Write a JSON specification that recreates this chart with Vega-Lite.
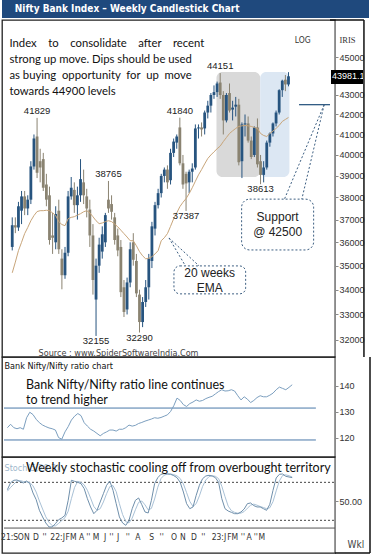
{
  "$schema": "https://vega.github.io/schema/vega-lite/v6.json",
  "padding": {"left": 0, "top": 0, "right": 0, "bottom": 0},
  "background": "white",
  "spacing": 2,
  "bounds": "flush",
  "config": {"view": {"stroke": null}, "text": {"font": "Liberation Sans"}},
  "datasets": {
    "weekly": [
      {"w":0,"o":35800,"h":37100,"l":35650,"c":36750,"ema":34700,"r":123.9,"k":68.4,"d":66.0},
      {"w":1,"o":36750,"h":37100,"l":36400,"c":36650,"ema":35150,"r":125.2,"k":79.5,"d":72.0},
      {"w":2,"o":36650,"h":37800,"l":36500,"c":37600,"ema":35640,"r":123.9,"k":83.2,"d":77.0},
      {"w":3,"o":37400,"h":38300,"l":36800,"c":38050,"ema":36000,"r":123.5,"k":83.7,"d":82.1},
      {"w":4,"o":38050,"h":38300,"l":37200,"c":37500,"ema":36380,"r":123.9,"k":81.1,"d":82.7},
      {"w":5,"o":37500,"h":38100,"l":37200,"c":37900,"ema":36650,"r":123.3,"k":79.0,"d":81.3},
      {"w":6,"o":37900,"h":39700,"l":37700,"c":39450,"ema":36950,"r":127.7,"k":82.1,"d":80.7},
      {"w":7,"o":39450,"h":41000,"l":39300,"c":40800,"ema":37180,"r":129.8,"k":77.9,"d":79.7},
      {"w":8,"o":40900,"h":41829,"l":38900,"c":39150,"ema":37360,"r":128.9,"k":63.2,"d":74.4},
      {"w":9,"o":39700,"h":40300,"l":38700,"c":39400,"ema":37400,"r":127.1,"k":52.6,"d":64.6},
      {"w":10,"o":39800,"h":40100,"l":38300,"c":38450,"ema":37400,"r":125.8,"k":35.8,"d":50.5},
      {"w":11,"o":38600,"h":39100,"l":37600,"c":37900,"ema":37420,"r":124.9,"k":25.3,"d":37.9},
      {"w":12,"o":38100,"h":38500,"l":35900,"c":36100,"ema":37400,"r":124.3,"k":15.8,"d":25.6},
      {"w":13,"o":36300,"h":37300,"l":35500,"c":36200,"ema":37300,"r":123.8,"k":9.5,"d":16.9},
      {"w":14,"o":36000,"h":37600,"l":35700,"c":37250,"ema":37180,"r":123.5,"k":9.5,"d":11.6},
      {"w":15,"o":37400,"h":37900,"l":35500,"c":35700,"ema":36910,"r":123.0,"k":14.7,"d":11.2},
      {"w":16,"o":35300,"h":35700,"l":34018,"c":34600,"ema":36780,"r":120.1,"k":21.0,"d":15.1},
      {"w":17,"o":34600,"h":35800,"l":34450,"c":35550,"ema":36730,"r":119.5,"k":23.7,"d":19.8},
      {"w":18,"o":35550,"h":38300,"l":35400,"c":38050,"ema":37040,"r":122.3,"k":27.9,"d":24.2},
      {"w":19,"o":38050,"h":38950,"l":37900,"c":38450,"ema":37100,"r":124.3,"k":51.6,"d":34.4},
      {"w":20,"o":38350,"h":38700,"l":37300,"c":37650,"ema":37130,"r":126.8,"k":83.2,"d":54.2},
      {"w":21,"o":37650,"h":38500,"l":37000,"c":38100,"ema":37200,"r":128.3,"k":81.6,"d":72.1},
      {"w":22,"o":38100,"h":39800,"l":37800,"c":38850,"ema":37265,"r":129.3,"k":80.0,"d":81.6},
      {"w":23,"o":38700,"h":39300,"l":37700,"c":38100,"ema":37350,"r":128.5,"k":77.9,"d":79.8},
      {"w":24,"o":38050,"h":38400,"l":37100,"c":37500,"ema":37400,"r":125.8,"k":70.0,"d":76.0},
      {"w":25,"o":37450,"h":37900,"l":35800,"c":36300,"ema":37300,"r":124.5,"k":54.2,"d":67.4},
      {"w":26,"o":36300,"h":36800,"l":33800,"c":34400,"ema":37130,"r":123.3,"k":41.1,"d":55.1},
      {"w":27,"o":33600,"h":35300,"l":32155,"c":35000,"ema":36950,"r":122.6,"k":30.5,"d":41.9},
      {"w":28,"o":35000,"h":36200,"l":34700,"c":35900,"ema":36820,"r":121.7,"k":35.8,"d":35.8},
      {"w":29,"o":35600,"h":36700,"l":35300,"c":36350,"ema":36850,"r":120.8,"k":49.0,"d":38.4},
      {"w":30,"o":36000,"h":37300,"l":35800,"c":37200,"ema":36910,"r":121.7,"k":62.1,"d":49.0},
      {"w":31,"o":37900,"h":38765,"l":37300,"c":37500,"ema":36950,"r":122.3,"k":75.3,"d":62.1},
      {"w":32,"o":37700,"h":38100,"l":37000,"c":37350,"ema":36910,"r":123.0,"k":82.1,"d":73.2},
      {"w":33,"o":37100,"h":37300,"l":35900,"c":36100,"ema":36800,"r":123.0,"k":67.4,"d":74.9},
      {"w":34,"o":36300,"h":36600,"l":35400,"c":35650,"ema":36680,"r":122.6,"k":46.3,"d":65.3},
      {"w":35,"o":35800,"h":36100,"l":33700,"c":33900,"ema":36530,"r":123.3,"k":25.3,"d":46.3},
      {"w":36,"o":34100,"h":34400,"l":32900,"c":33100,"ema":36380,"r":123.3,"k":15.8,"d":29.1},
      {"w":37,"o":33200,"h":34500,"l":33000,"c":34300,"ema":36230,"r":123.9,"k":12.1,"d":17.7},
      {"w":38,"o":34300,"h":36000,"l":34100,"c":35700,"ema":36070,"r":124.9,"k":20.0,"d":16.0},
      {"w":39,"o":36000,"h":36400,"l":35000,"c":35250,"ema":36070,"r":124.5,"k":38.4,"d":23.5},
      {"w":40,"o":35200,"h":35500,"l":33700,"c":33850,"ema":35850,"r":124.8,"k":51.6,"d":36.7},
      {"w":41,"o":33800,"h":34000,"l":32290,"c":32700,"ema":35600,"r":125.5,"k":55.3,"d":48.4},
      {"w":42,"o":32700,"h":33700,"l":32500,"c":33500,"ema":35420,"r":125.9,"k":44.7,"d":50.5},
      {"w":43,"o":33500,"h":34400,"l":33300,"c":34100,"ema":35290,"r":126.4,"k":33.2,"d":44.4},
      {"w":44,"o":34100,"h":35500,"l":33600,"c":35300,"ema":35320,"r":126.8,"k":31.6,"d":36.5},
      {"w":45,"o":35200,"h":36900,"l":34900,"c":36700,"ema":35380,"r":127.2,"k":51.6,"d":38.8},
      {"w":46,"o":36600,"h":37800,"l":36300,"c":37650,"ema":35500,"r":127.7,"k":77.9,"d":53.7},
      {"w":47,"o":37650,"h":38400,"l":37500,"c":38200,"ema":35640,"r":127.5,"k":87.4,"d":72.3},
      {"w":48,"o":38200,"h":39100,"l":38000,"c":39000,"ema":36070,"r":127.8,"k":92.7,"d":86.0},
      {"w":49,"o":39000,"h":39400,"l":38700,"c":39300,"ema":36200,"r":128.3,"k":93.7,"d":91.3},
      {"w":50,"o":39300,"h":39500,"l":38400,"c":38700,"ema":36380,"r":128.8,"k":93.2,"d":93.2},
      {"w":51,"o":38800,"h":40300,"l":38600,"c":40100,"ema":36700,"r":130.1,"k":92.7,"d":93.2},
      {"w":52,"o":40100,"h":40800,"l":39900,"c":40650,"ema":37040,"r":132.3,"k":90.5,"d":92.1},
      {"w":53,"o":40600,"h":41000,"l":40300,"c":40900,"ema":37300,"r":135.2,"k":87.4,"d":90.2},
      {"w":54,"o":41350,"h":41840,"l":39500,"c":39600,"ema":37580,"r":134.3,"k":80.0,"d":86.0},
      {"w":55,"o":39600,"h":40000,"l":38400,"c":38600,"ema":37780,"r":132.7,"k":64.7,"d":77.4},
      {"w":56,"o":39100,"h":39200,"l":37387,"c":38650,"ema":37950,"r":132.0,"k":46.3,"d":63.7},
      {"w":57,"o":38700,"h":39300,"l":38200,"c":39200,"ema":38180,"r":133.1,"k":38.4,"d":49.8},
      {"w":58,"o":39200,"h":39600,"l":38700,"c":39350,"ema":38450,"r":133.7,"k":41.1,"d":41.9},
      {"w":59,"o":39400,"h":41500,"l":39300,"c":41300,"ema":38750,"r":134.5,"k":59.5,"d":46.3},
      {"w":60,"o":41300,"h":41500,"l":40800,"c":41350,"ema":39050,"r":134.0,"k":75.3,"d":58.6},
      {"w":61,"o":41350,"h":41600,"l":40900,"c":41250,"ema":39300,"r":134.3,"k":85.8,"d":73.5},
      {"w":62,"o":41300,"h":42200,"l":41000,"c":42100,"ema":39570,"r":135.0,"k":90.0,"d":83.7},
      {"w":63,"o":42100,"h":42700,"l":41800,"c":42450,"ema":39830,"r":135.5,"k":91.1,"d":89.0},
      {"w":64,"o":42450,"h":43100,"l":42100,"c":43000,"ema":40000,"r":135.9,"k":90.0,"d":90.4},
      {"w":65,"o":43000,"h":43500,"l":42800,"c":43150,"ema":40150,"r":136.8,"k":87.4,"d":89.5},
      {"w":66,"o":43150,"h":43700,"l":42900,"c":43600,"ema":40300,"r":137.7,"k":80.0,"d":85.8},
      {"w":67,"o":43650,"h":44151,"l":42800,"c":43000,"ema":40430,"r":138.4,"k":54.2,"d":73.9},
      {"w":68,"o":43000,"h":43200,"l":41000,"c":41700,"ema":40650,"r":137.9,"k":38.4,"d":57.5},
      {"w":69,"o":41700,"h":43100,"l":41600,"c":43000,"ema":40850,"r":138.0,"k":34.7,"d":42.4},
      {"w":70,"o":43100,"h":43600,"l":42100,"c":42200,"ema":41050,"r":138.4,"k":32.6,"d":35.2},
      {"w":71,"o":42250,"h":42700,"l":41700,"c":42350,"ema":41180,"r":137.9,"k":30.5,"d":32.6},
      {"w":72,"o":42400,"h":42900,"l":41900,"c":42500,"ema":41300,"r":136.1,"k":30.5,"d":31.2},
      {"w":73,"o":42500,"h":42800,"l":39500,"c":39650,"ema":41400,"r":134.5,"k":33.2,"d":31.4},
      {"w":74,"o":39700,"h":41600,"l":38900,"c":41500,"ema":41430,"r":135.7,"k":37.9,"d":33.9},
      {"w":75,"o":41500,"h":42000,"l":40900,"c":41550,"ema":41450,"r":134.8,"k":46.3,"d":39.1},
      {"w":76,"o":41550,"h":41900,"l":40600,"c":40700,"ema":41430,"r":133.5,"k":47.4,"d":43.9},
      {"w":77,"o":40700,"h":40900,"l":39800,"c":39900,"ema":41400,"r":134.3,"k":43.2,"d":45.6},
      {"w":78,"o":40000,"h":41400,"l":39900,"c":41350,"ema":41350,"r":135.4,"k":41.1,"d":43.9},
      {"w":79,"o":41350,"h":41800,"l":39400,"c":39550,"ema":41300,"r":136.1,"k":41.1,"d":41.8},
      {"w":80,"o":39700,"h":40000,"l":38613,"c":39050,"ema":41050,"r":135.7,"k":38.4,"d":40.2},
      {"w":81,"o":39050,"h":39700,"l":38700,"c":39400,"ema":40950,"r":135.7,"k":35.8,"d":38.4},
      {"w":82,"o":39400,"h":40700,"l":39300,"c":40600,"ema":40900,"r":136.3,"k":45.3,"d":39.8},
      {"w":83,"o":40600,"h":41100,"l":40400,"c":41050,"ema":41050,"r":137.1,"k":67.4,"d":49.5},
      {"w":84,"o":41050,"h":41600,"l":40900,"c":41550,"ema":41170,"r":138.4,"k":86.9,"d":66.5},
      {"w":85,"o":41550,"h":42200,"l":41400,"c":42100,"ema":41300,"r":139.4,"k":92.7,"d":82.3},
      {"w":86,"o":42100,"h":43300,"l":42000,"c":43250,"ema":41450,"r":138.9,"k":93.2,"d":90.9},
      {"w":87,"o":43250,"h":43800,"l":42900,"c":43750,"ema":41650,"r":138.4,"k":89.5,"d":91.8},
      {"w":88,"o":43800,"h":44050,"l":43200,"c":43550,"ema":41750,"r":139.3,"k":88.4,"d":90.4},
      {"w":89,"o":43550,"h":44200,"l":43450,"c":43981.1,"ema":41850,"r":140.3,"k":87.4,"d":88.4}
    ],
    "peaks": [
      {"w":8,"v":41829,"pos":"top"},
      {"w":27,"v":32155,"pos":"bottom"},
      {"w":31,"v":38765,"pos":"top"},
      {"w":41,"v":32290,"pos":"bottom"},
      {"w":54,"v":41840,"pos":"top"},
      {"w":56,"v":37387,"pos":"bottom"},
      {"w":67,"v":44151,"pos":"top"},
      {"w":80,"v":38613,"pos":"bottom"}
    ],
    "zones": [
      {"zone":"consolidation","from":65.8,"to":79.9,"top":44210,"bottom":38950},
      {"zone":"breakout","from":79.9,"to":89.3,"top":44210,"bottom":38950}
    ],
    "months": [
      {"w":0.7,"m":"21:S"},{"w":4.2,"m":"O"},{"w":6.1,"m":"N"},{"w":8.9,"m":"D"},{"w":11.6,"m":"''"},
      {"w":15.7,"m":"22:J"},{"w":19.9,"m":"FM"},{"w":23.2,"m":"A"},{"w":25.3,"m":"''"},{"w":27.7,"m":"M"},
      {"w":30.5,"m":"J"},{"w":32.5,"m":"''"},{"w":34.6,"m":"J"},{"w":37.6,"m":"''"},{"w":40.8,"m":"A"},
      {"w":45.1,"m":"S"},{"w":48.2,"m":"''"},{"w":52.1,"m":"O"},{"w":54.8,"m":"N"},{"w":58.3,"m":"D"},
      {"w":61.2,"m":"''"},{"w":66.1,"m":"23:J"},{"w":70.4,"m":"FM"},{"w":73.6,"m":"''"},{"w":75.5,"m":"A"},
      {"w":77.6,"m":"''"},{"w":79.5,"m":"M"}
    ]
  },
  "vconcat": [
    {
      "width": 367,
      "height": 18,
      "view": {"fill": "#1f497d", "stroke": null},
      "data": {"values": [{"title": "Nifty Bank Index – Weekly Candlestick Chart"}]},
      "mark": {"type": "text", "align": "left", "baseline": "middle", "font": "Liberation Sans Narrow, Arial Narrow, DejaVu Sans Condensed, sans-serif", "fontWeight": "bold", "fontSize": 10, "color": "#ffffff"},
      "encoding": {
        "x": {"datum": 0.035, "type": "quantitative", "scale": {"domain": [0, 1]}, "axis": null},
        "y": {"datum": 0.5, "type": "quantitative", "scale": {"domain": [0, 1]}, "axis": null},
        "text": {"field": "title"}
      }
    },
    {
      "spacing": 0,
      "bounds": "flush",
      "vconcat": [
        {
          "width": 333,
          "height": 337,
          "view": {"stroke": "#222222", "strokeWidth": 1.3},
          "layer": [
            {
              "data": {"name": "zones"},
              "mark": {"type": "rect", "cornerRadius": 6},
              "encoding": {
                "x": {"field": "from", "type": "quantitative", "scale": {"domain": [-1.6875, 102.375], "nice": false, "zero": false}, "axis": null},
                "x2": {"field": "to"},
                "y": {"field": "top", "type": "quantitative", "scale": {"type": "log", "domain": [31350, 47070], "nice": false},
                  "axis": {"orient": "right", "values": [32000,33000,34000,35000,36000,37000,38000,39000,40000,41000,42000,43000,45000], "format": "d", "title": null, "grid": false, "tickSize": 3, "labelPadding": 1, "labelFontSize": 9, "labelFont": "Liberation Sans", "labelColor": "#333333", "domainColor": "#8a8a8a", "tickColor": "#8a8a8a"}},
                "y2": {"field": "bottom"},
                "color": {"field": "zone", "type": "nominal", "scale": {"domain": ["consolidation", "breakout"], "range": ["#d9d9d9", "#dce7f3"]}, "legend": null}
              }
            },
            {
              "data": {"name": "weekly"},
              "mark": {"type": "rule", "strokeWidth": 1},
              "encoding": {
                "x": {"field": "w", "type": "quantitative", "axis": null},
                "y": {"field": "l", "type": "quantitative"},
                "y2": {"field": "h"},
                "color": {"condition": {"test": "datum.c >= datum.o", "value": "#27547f"}, "value": "#8a8371"}
              }
            },
            {
              "data": {"name": "weekly"},
              "mark": {"type": "bar", "width": 2.8},
              "encoding": {
                "x": {"field": "w", "type": "quantitative", "axis": null},
                "y": {"field": "o", "type": "quantitative"},
                "y2": {"field": "c"},
                "color": {"condition": {"test": "datum.c >= datum.o", "value": "#27547f"}, "value": "#8a8371"}
              }
            },
            {
              "data": {"name": "weekly"},
              "mark": {"type": "line", "color": "#c8a57a", "strokeWidth": 1},
              "encoding": {
                "x": {"field": "w", "type": "quantitative", "axis": null},
                "y": {"field": "ema", "type": "quantitative"}
              }
            },
            {
              "data": {"name": "peaks"},
              "transform": [{"filter": "datum.pos === 'top'"}],
              "mark": {"type": "text", "dy": -7, "fontSize": 9.5, "color": "#222222", "baseline": "middle"},
              "encoding": {
                "x": {"field": "w", "type": "quantitative", "axis": null},
                "y": {"field": "v", "type": "quantitative"},
                "text": {"field": "v", "type": "quantitative", "format": "d"}
              }
            },
            {
              "data": {"name": "peaks"},
              "transform": [{"filter": "datum.pos === 'bottom'"}],
              "mark": {"type": "text", "dy": 5, "fontSize": 9.5, "color": "#222222", "baseline": "middle"},
              "encoding": {
                "x": {"field": "w", "type": "quantitative", "axis": null},
                "y": {"field": "v", "type": "quantitative"},
                "text": {"field": "v", "type": "quantitative", "format": "d"}
              }
            },
            {
              "data": {"values": [{"level": 42500}]},
              "mark": {"type": "rule", "color": "#1f4e79", "strokeWidth": 1.2},
              "encoding": {
                "x": {"datum": 92.4, "type": "quantitative", "axis": null},
                "x2": {"datum": 102.375},
                "y": {"field": "level", "type": "quantitative"}
              }
            },
            {
              "data": {"values": [{"callout": "support"}]},
              "mark": {"type": "rule", "strokeDash": [2, 2], "color": "#3d5f82", "strokeWidth": 1},
              "encoding": {
                "x": {"datum": 100.5, "type": "quantitative", "axis": null},
                "y": {"datum": 42500, "type": "quantitative"},
                "x2": {"datum": 87.7},
                "y2": {"datum": 37925}
              }
            },
            {
              "data": {"values": [{"callout": "support"}]},
              "mark": {"type": "rule", "strokeDash": [2, 2], "color": "#3d5f82", "strokeWidth": 1},
              "encoding": {
                "x": {"datum": 100.5, "type": "quantitative", "axis": null},
                "y": {"datum": 42500, "type": "quantitative"},
                "x2": {"datum": 93.3},
                "y2": {"datum": 37925}
              }
            },
            {
              "data": {"values": [{"callout": "ema"}]},
              "mark": {"type": "rule", "strokeDash": [2, 2], "color": "#3d5f82", "strokeWidth": 1},
              "encoding": {
                "x": {"datum": 50.5, "type": "quantitative", "axis": null},
                "y": {"datum": 36190, "type": "quantitative"},
                "x2": {"datum": 55.8},
                "y2": {"datum": 34990}
              }
            },
            {
              "data": {"values": [{"callout": "ema"}]},
              "mark": {"type": "rule", "strokeDash": [2, 2], "color": "#3d5f82", "strokeWidth": 1},
              "encoding": {
                "x": {"datum": 50.5, "type": "quantitative", "axis": null},
                "y": {"datum": 36190, "type": "quantitative"},
                "x2": {"datum": 60.2},
                "y2": {"datum": 34990}
              }
            },
            {
              "data": {"values": [{"callout": "support"}]},
              "mark": {"type": "rect", "cornerRadius": 8, "fill": "#ffffff", "stroke": "#3d5f82", "strokeDash": [2, 2], "strokeWidth": 1},
              "encoding": {
                "x": {"datum": 73.9, "type": "quantitative", "axis": null},
                "x2": {"datum": 97.1},
                "y": {"datum": 37925, "type": "quantitative"},
                "y2": {"datum": 35670}
              }
            },
            {
              "data": {"values": [{"callout": "ema"}]},
              "mark": {"type": "rect", "cornerRadius": 6, "fill": "#ffffff", "stroke": "#3d5f82", "strokeDash": [2, 2], "strokeWidth": 1},
              "encoding": {
                "x": {"datum": 52.1, "type": "quantitative", "axis": null},
                "x2": {"datum": 75.2},
                "y": {"datum": 34990, "type": "quantitative"},
                "y2": {"datum": 33830}
              }
            },
            {
              "data": {"values": [{"t": "Support\n@ 42500"}]},
              "mark": {"type": "text", "lineBreak": "\n", "lineHeight": 15, "fontSize": 12, "color": "#222222", "align": "center", "baseline": "middle"},
              "encoding": {
                "x": {"datum": 85.5, "type": "quantitative", "axis": null},
                "y": {"datum": 37115, "type": "quantitative"},
                "text": {"field": "t"}
              }
            },
            {
              "data": {"values": [{"t": "20 weeks\nEMA"}]},
              "mark": {"type": "text", "lineBreak": "\n", "lineHeight": 15, "fontSize": 12, "color": "#222222", "align": "center", "baseline": "middle"},
              "encoding": {
                "x": {"datum": 63.6, "type": "quantitative", "axis": null},
                "y": {"datum": 34690, "type": "quantitative"},
                "text": {"field": "t"}
              }
            },
            {
              "data": {"values": [{"t": "Index\u00a0\u00a0\u00a0 to\u00a0\u00a0\u00a0 consolidate\u00a0\u00a0\u00a0 after\u00a0\u00a0\u00a0 recent\nstrong up move. Dips should be used\nas buying\u00a0 opportunity\u00a0 for\u00a0 up\u00a0 move\ntowards 44900 levels"}]},
              "mark": {"type": "text", "lineBreak": "\n", "lineHeight": 16, "fontSize": 11.3, "font": "Lato", "color": "#111111", "align": "left", "baseline": "middle"},
              "encoding": {
                "x": {"datum": -0.9, "type": "quantitative", "axis": null},
                "y": {"datum": 45700, "type": "quantitative"},
                "text": {"field": "t"}
              }
            },
            {
              "data": {"values": [{"t": "Source : www.SpiderSoftwareIndia.Com"}]},
              "mark": {"type": "text", "fontSize": 9, "font": "Liberation Sans Narrow, DejaVu Sans Condensed, sans-serif", "color": "#444444", "align": "center", "baseline": "middle"},
              "encoding": {
                "x": {"datum": 34.25, "type": "quantitative", "axis": null},
                "y": {"datum": 31500, "type": "quantitative"},
                "text": {"field": "t"}
              }
            },
            {
              "data": {"values": [{"t": "LOG"}]},
              "mark": {"type": "text", "fontSize": 8.5, "font": "Liberation Sans Narrow, DejaVu Sans Condensed, sans-serif", "color": "#333333", "align": "center", "baseline": "middle"},
              "encoding": {
                "x": {"datum": 93.6, "type": "quantitative", "axis": null},
                "y": {"datum": 45950, "type": "quantitative"},
                "text": {"field": "t"}
              }
            },
            {
              "data": {"values": [{"t": "IRIS"}]},
              "mark": {"type": "text", "fontSize": 8.5, "font": "Liberation Serif", "color": "#333333", "align": "center", "baseline": "middle"},
              "encoding": {
                "x": {"datum": 108, "type": "quantitative", "axis": null},
                "y": {"datum": 45950, "type": "quantitative"},
                "text": {"field": "t"}
              }
            },
            {
              "data": {"values": [{"last": 43981.1}]},
              "mark": {"type": "rect", "fill": "#000000"},
              "encoding": {
                "x": {"datum": 102.7, "type": "quantitative", "axis": null},
                "x2": {"datum": 113},
                "y": {"datum": 44316, "type": "quantitative"},
                "y2": {"datum": 43574}
              }
            },
            {
              "data": {"values": [{"last": 43981.1}]},
              "mark": {"type": "text", "fontSize": 9, "color": "#ffffff", "align": "left", "baseline": "middle"},
              "encoding": {
                "x": {"datum": 103, "type": "quantitative", "axis": null},
                "y": {"field": "last", "type": "quantitative"},
                "text": {"field": "last", "type": "quantitative", "format": ".1f"}
              }
            },
            {
              "data": {"values": [{"edge": "top"}]},
              "mark": {"type": "rule", "color": "#111111", "strokeWidth": 1.5},
              "encoding": {
                "x": {"datum": 102.375, "type": "quantitative", "axis": null},
                "x2": {"datum": 113.3125},
                "y": {"datum": 47070, "type": "quantitative"}
              }
            },
            {
              "data": {"values": [{"edge": "right"}]},
              "mark": {"type": "rule", "color": "#111111", "strokeWidth": 1.5},
              "encoding": {
                "x": {"datum": 113.3125, "type": "quantitative", "axis": null},
                "y": {"datum": 47070, "type": "quantitative"},
                "y2": {"datum": 31350}
              }
            }
          ]
        },
        {
          "width": 333,
          "height": 100,
          "view": {"stroke": "#222222", "strokeWidth": 1.3},
          "layer": [
            {
              "data": {"values": [{"level": 131.4}, {"level": 119.2}]},
              "mark": {"type": "rule", "color": "#4a78a8", "strokeWidth": 1},
              "encoding": {
                "x": {"datum": -1.06, "type": "quantitative", "scale": {"domain": [-1.6875, 102.375], "nice": false, "zero": false}, "axis": null},
                "x2": {"datum": 96.4},
                "y": {"field": "level", "type": "quantitative", "scale": {"domain": [112.7, 150.9], "nice": false, "zero": false},
                  "axis": {"orient": "right", "values": [120, 130, 140], "title": null, "grid": false, "tickSize": 3, "labelPadding": 1, "labelFontSize": 9, "labelFont": "Liberation Sans", "labelColor": "#333333", "domainColor": "#8a8a8a", "tickColor": "#8a8a8a"}}
              }
            },
            {
              "data": {"name": "weekly"},
              "mark": {"type": "line", "color": "#7c9fbf", "strokeWidth": 1},
              "encoding": {
                "x": {"field": "w", "type": "quantitative", "axis": null},
                "y": {"field": "r", "type": "quantitative"}
              }
            },
            {
              "data": {"values": [{"t": "Bank Nifty/Nifty ratio chart"}]},
              "mark": {"type": "text", "fontSize": 9, "font": "Liberation Sans Narrow, DejaVu Sans Condensed, sans-serif", "color": "#111111", "align": "left", "baseline": "middle"},
              "encoding": {
                "x": {"datum": -0.9, "type": "quantitative", "axis": null},
                "y": {"datum": 147.4, "type": "quantitative"},
                "text": {"field": "t"}
              }
            },
            {
              "data": {"values": [{"t": "Bank Nifty/Nifty ratio line continues\nto trend higher"}]},
              "mark": {"type": "text", "lineBreak": "\n", "lineHeight": 15, "fontSize": 12.5, "font": "Lato", "color": "#111111", "align": "left", "baseline": "middle"},
              "encoding": {
                "x": {"datum": 5.8, "type": "quantitative", "axis": null},
                "y": {"datum": 140.2, "type": "quantitative"},
                "text": {"field": "t"}
              }
            },
            {
              "data": {"values": [{"edge": "right"}]},
              "mark": {"type": "rule", "color": "#111111", "strokeWidth": 1.5},
              "encoding": {
                "x": {"datum": 113.3125, "type": "quantitative", "axis": null},
                "y": {"datum": 150.9, "type": "quantitative"},
                "y2": {"datum": 112.7}
              }
            }
          ]
        },
        {
          "width": 333,
          "height": 96,
          "view": {"stroke": "#222222", "strokeWidth": 1.3},
          "layer": [
            {
              "data": {"values": [{"level": 80}, {"level": 20}]},
              "mark": {"type": "rule", "color": "#444444", "strokeWidth": 1, "strokeDash": [2, 2]},
              "encoding": {
                "x": {"datum": -1.06, "type": "quantitative", "scale": {"domain": [-1.6875, 102.375], "nice": false, "zero": false}, "axis": null},
                "x2": {"datum": 102.375},
                "y": {"field": "level", "type": "quantitative", "scale": {"domain": [-31.6, 120], "nice": false, "zero": false},
                  "axis": {"orient": "right", "values": [50], "format": ".2f", "title": null, "grid": false, "tickSize": 3, "labelPadding": 1, "labelFontSize": 9, "labelFont": "Liberation Sans", "labelColor": "#333333", "domainColor": "#8a8a8a", "tickColor": "#8a8a8a"}}
              }
            },
            {
              "data": {"values": [{"divider": "axis"}]},
              "mark": {"type": "rule", "color": "#555555", "strokeWidth": 1},
              "encoding": {
                "x": {"datum": -1.06, "type": "quantitative", "axis": null},
                "x2": {"datum": 102.375},
                "y": {"datum": 7.8, "type": "quantitative"}
              }
            },
            {
              "data": {"name": "weekly"},
              "mark": {"type": "line", "color": "#a9c1d6", "strokeWidth": 1},
              "encoding": {
                "x": {"field": "w", "type": "quantitative", "axis": null},
                "y": {"field": "d", "type": "quantitative"}
              }
            },
            {
              "data": {"name": "weekly"},
              "mark": {"type": "line", "color": "#6f8fab", "strokeWidth": 1},
              "encoding": {
                "x": {"field": "w", "type": "quantitative", "axis": null},
                "y": {"field": "k", "type": "quantitative"}
              }
            },
            {
              "data": {"values": [{"t": "Stoch(5,20,3)"}]},
              "mark": {"type": "text", "fontSize": 9, "font": "Liberation Sans Narrow, DejaVu Sans Condensed, sans-serif", "color": "#9fb8cc", "align": "left", "baseline": "middle"},
              "encoding": {
                "x": {"datum": -0.9, "type": "quantitative", "axis": null},
                "y": {"datum": 102.6, "type": "quantitative"},
                "text": {"field": "t"}
              }
            },
            {
              "data": {"values": [{"t": "Weekly stochastic cooling off from overbought territory"}]},
              "mark": {"type": "text", "fontSize": 12.5, "font": "Lato", "color": "#111111", "align": "left", "baseline": "middle"},
              "encoding": {
                "x": {"datum": 5.8, "type": "quantitative", "axis": null},
                "y": {"datum": 102.6, "type": "quantitative"},
                "text": {"field": "t"}
              }
            },
            {
              "data": {"name": "months"},
              "mark": {"type": "text", "fontSize": 8.5, "font": "Liberation Sans Narrow, DejaVu Sans Condensed, sans-serif", "color": "#333333", "align": "center", "baseline": "middle"},
              "encoding": {
                "x": {"field": "w", "type": "quantitative", "axis": null},
                "y": {"datum": -6.4, "type": "quantitative"},
                "text": {"field": "m"}
              }
            },
            {
              "data": {"values": [{"t": "Wkl"}]},
              "mark": {"type": "text", "fontSize": 10, "font": "Liberation Sans Narrow, DejaVu Sans Condensed, sans-serif", "color": "#444444", "align": "center", "baseline": "middle"},
              "encoding": {
                "x": {"datum": 108.9, "type": "quantitative", "axis": null},
                "y": {"datum": -19, "type": "quantitative"},
                "text": {"field": "t"}
              }
            },
            {
              "data": {"values": [{"edge": "right"}]},
              "mark": {"type": "rule", "color": "#111111", "strokeWidth": 1.5},
              "encoding": {
                "x": {"datum": 113.3125, "type": "quantitative", "axis": null},
                "y": {"datum": 120, "type": "quantitative"},
                "y2": {"datum": -31.6}
              }
            },
            {
              "data": {"values": [{"edge": "bottom"}]},
              "mark": {"type": "rule", "color": "#111111", "strokeWidth": 1.5},
              "encoding": {
                "x": {"datum": 102.375, "type": "quantitative", "axis": null},
                "x2": {"datum": 113.3125},
                "y": {"datum": -31.6, "type": "quantitative"}
              }
            }
          ]
        }
      ]
    }
  ]
}
